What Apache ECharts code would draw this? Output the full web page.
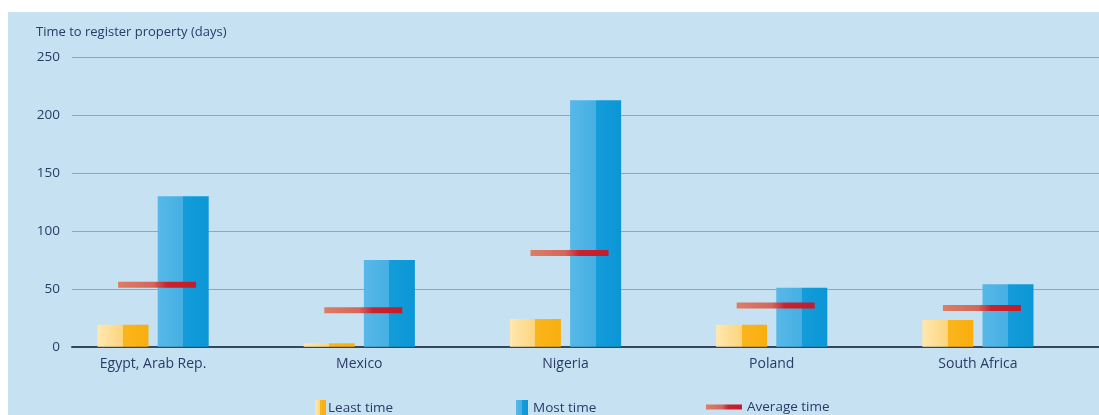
<!DOCTYPE html>
<html>
<head>
<meta charset="utf-8">
<script src="https://cdn.jsdelivr.net/npm/echarts@6/dist/echarts.min.js"></script>
<style>
  html, body { margin: 0; padding: 0; background: #ffffff; }
  #bg { position: absolute; left: 8px; top: 12px; width: 1091px; height: 403px; background: #c5e1f2; }
  #chart { position: absolute; left: 0; top: 0; width: 1099px; height: 415px; }
</style>
</head>
<body>
<div id="bg"></div>
<div id="chart"></div>
<script>
// Days needed to register property, by country
const countries = ['Egypt, Arab Rep.', 'Mexico', 'Nigeria', 'Poland', 'South Africa'];
const leastTime = [19, 3, 24, 19, 23];
const mostTime = [130, 75, 213, 51, 54];
const averageTime = [53.5, 31.5, 81, 35.5, 33.5];
const yTicks = [0, 50, 100, 150, 200, 250];

const textColor = '#2b3a67';
const font = 'Open Sans';

// two-tone fill: shaded left half, solid right half
function split(c1, c2, c3, c4) {
  return new echarts.graphic.LinearGradient(0, 0, 1, 0, [
    { offset: 0, color: c1 },
    { offset: 0.5, color: c2 },
    { offset: 0.5, color: c3 },
    { offset: 1, color: c4 }
  ]);
}

const leastColor = split('#ffe8b0', '#fdd47c', '#fbb51c', '#f9ae0e');
const mostColor = split('#57b8e8', '#46afe3', '#149cda', '#0b96d5');
const avgColor = new echarts.graphic.LinearGradient(0, 0, 1, 0, [
  { offset: 0, color: '#de7d64' },
  { offset: 0.45, color: '#d4675a' },
  { offset: 0.62, color: '#c9232f' },
  { offset: 1, color: '#c31c2a' }
]);

const chart = echarts.init(document.getElementById('chart'), null, { renderer: 'canvas' });

const legendText = { color: textColor, fontSize: 13.5, fontFamily: font };

chart.setOption({
  backgroundColor: 'transparent',
  animation: false,
  title: {
    text: 'Time to register property (days)',
    left: 31, top: 21,
    textStyle: { color: textColor, fontSize: 13, fontWeight: 'normal', fontFamily: font }
  },
  legend: [
    { data: ['Least time'], left: 310, top: 395, icon: 'rect', itemWidth: 11, itemHeight: 16, itemGap: 0,
      textStyle: Object.assign({ padding: [0, 0, 0, -3] }, legendText) },
    { data: ['Most time'], left: 511, top: 395, icon: 'rect', itemWidth: 12, itemHeight: 16, itemGap: 0,
      textStyle: legendText },
    { data: ['Average time'], left: 701, top: 395, icon: 'rect', itemWidth: 36, itemHeight: 5, itemGap: 0,
      textStyle: legendText }
  ],
  grid: [
    // bars
    { left: 50, right: 18, top: 57.3, bottom: 68.3 },
    // scale, gridlines and baseline
    { left: 72, right: 0, top: 57.3, bottom: 68.3 }
  ],
  xAxis: [
    {
      gridIndex: 0, type: 'category', data: countries,
      axisLine: { show: false }, axisTick: { show: false },
      axisLabel: { color: textColor, fontSize: 14, fontFamily: font, margin: 10 }
    },
    {
      gridIndex: 1, type: 'category', data: [''],
      axisLine: { show: true, lineStyle: { color: '#36465c', width: 2 } },
      axisTick: { show: false }, axisLabel: { show: false }
    }
  ],
  yAxis: [
    {
      gridIndex: 0, type: 'value', min: 0, max: 250, interval: 50,
      axisLine: { show: false }, axisTick: { show: false },
      axisLabel: { show: false }, splitLine: { show: false }
    },
    {
      gridIndex: 1, type: 'value', min: yTicks[0], max: yTicks[yTicks.length - 1], interval: 50,
      axisLine: { show: false }, axisTick: { show: false },
      axisLabel: { color: textColor, fontSize: 13.5, fontFamily: font, margin: 12 },
      splitLine: { lineStyle: { color: '#8ea6be', width: 1.2 } }
    }
  ],
  series: [
    {
      name: 'Least time', type: 'bar', xAxisIndex: 0, yAxisIndex: 0,
      data: leastTime, barWidth: 51, barGap: '18%',
      itemStyle: { color: leastColor }
    },
    {
      name: 'Most time', type: 'bar', xAxisIndex: 0, yAxisIndex: 0,
      data: mostTime, barWidth: 51, barGap: '18%',
      itemStyle: { color: mostColor }
    },
    {
      name: 'Average time', type: 'scatter', xAxisIndex: 0, yAxisIndex: 0,
      data: averageTime, symbol: 'rect', symbolSize: [78, 6], symbolOffset: [4, 0],
      z: 5,
      itemStyle: { color: avgColor, opacity: 1 }
    }
  ]
});
</script>
</body>
</html>
